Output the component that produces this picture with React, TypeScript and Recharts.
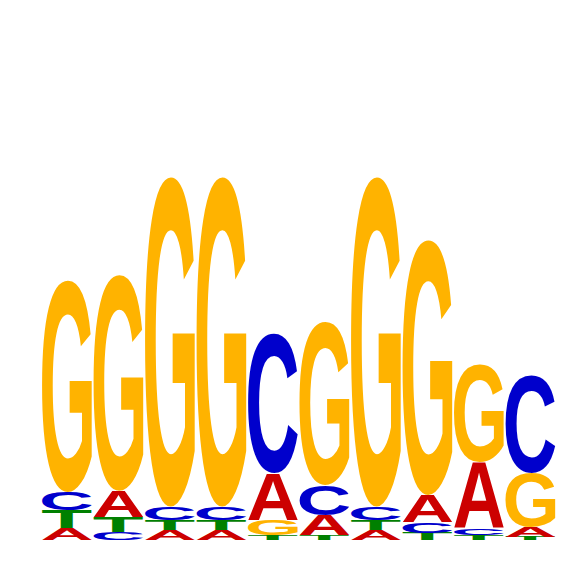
import React from 'react';
import { BarChart, Bar, XAxis, YAxis } from 'recharts';

const positions = ['1', '2', '3', '4', '5', '6', '7', '8', '9', '10'];
const A = [0.046, 0.1, 0.038, 0.038, 0.181, 0.077, 0.038, 0.104, 0.254, 0.038];
const C = [0.07, 0.031, 0.05, 0.05, 0.538, 0.115, 0.05, 0.042, 0.027, 0.377];
const G = [0.815, 0.831, 1.269, 1.269, 0.058, 0.627, 1.269, 0.981, 0.373, 0.208];
const T = [0.068, 0.058, 0.04, 0.04, 0.019, 0.019, 0.04, 0.027, 0.019, 0.012];
const letters = ['A', 'C', 'G', 'T'];
const letterColors: Record<string, string> = { A: '#CC0000', C: '#0000CC', G: '#FFB300', T: '#008000' };

const FONT = "'Liberation Sans', Arial, Helvetica, sans-serif";
const FS = 100;

type Metric = { l: number; r: number; a: number; d: number };
const fallback: Record<string, Metric> = {
  A: { l: 0, r: 72.2, a: 71.6, d: 0 },
  C: { l: -4.2, r: 67.1, a: 72.8, d: 1.2 },
  G: { l: -4.3, r: 72.5, a: 72.8, d: 1.2 },
  T: { l: -2.2, r: 58.9, a: 71.6, d: 0 },
};
const metricCache: Record<string, Metric> = {};
function getMetric(ch: string): Metric {
  if (metricCache[ch]) return metricCache[ch];
  let m = fallback[ch];
  try {
    const cv = document.createElement('canvas');
    const ctx = cv.getContext('2d');
    if (ctx) {
      ctx.font = `bold ${FS}px ${FONT}`;
      const t = ctx.measureText(ch);
      if (t.actualBoundingBoxRight) {
        m = { l: t.actualBoundingBoxLeft, r: t.actualBoundingBoxRight, a: t.actualBoundingBoxAscent, d: t.actualBoundingBoxDescent };
      }
    }
  } catch (e) {}
  metricCache[ch] = m;
  return m;
}

const rows = positions.map((p, i) => {
  const entries: [string, number][] = [
    ['A', A[i]],
    ['C', C[i]],
    ['G', G[i]],
    ['T', T[i]],
  ];
  entries.sort((a, b) => a[1] - b[1]);
  const row: any = { pos: p };
  entries.forEach(([l, v], k) => {
    row[`r${k}`] = v;
    row[`l${k}`] = l;
  });
  return row;
});

const makeShape = (k: number) => (props: any) => {
  const { x, y, width, height, payload } = props;
  if (!payload || !height || height <= 0 || !width) return <g />;
  const ch = payload[`l${k}`];
  const m = getMetric(ch);
  const sx = width / (m.l + m.r);
  const sy = height / (m.a + m.d);
  return (
    <text
      x={0}
      y={0}
      fontFamily={FONT}
      fontWeight="bold"
      fontSize={FS}
      fill={letterColors[ch]}
      transform={`translate(${x + m.l * sx},${y + m.a * sy}) scale(${sx},${sy})`}
    >
      {ch}
    </text>
  );
};

export default function App() {
  return (
    <div style={{ width: 558, height: 558 }}>
      <BarChart
        width={558}
        height={558}
        data={rows}
        margin={{ top: 12, right: 10, bottom: 26, left: 33 }}
        barCategoryGap={1}
      >
        <XAxis dataKey="pos" hide />
        <YAxis hide domain={[0, 2]} allowDataOverflow />
        {[0, 1, 2, 3].map((k) => (
          <Bar key={k} dataKey={`r${k}`} stackId="s" isAnimationActive={false} shape={makeShape(k)} />
        ))}
      </BarChart>
    </div>
  );
}
